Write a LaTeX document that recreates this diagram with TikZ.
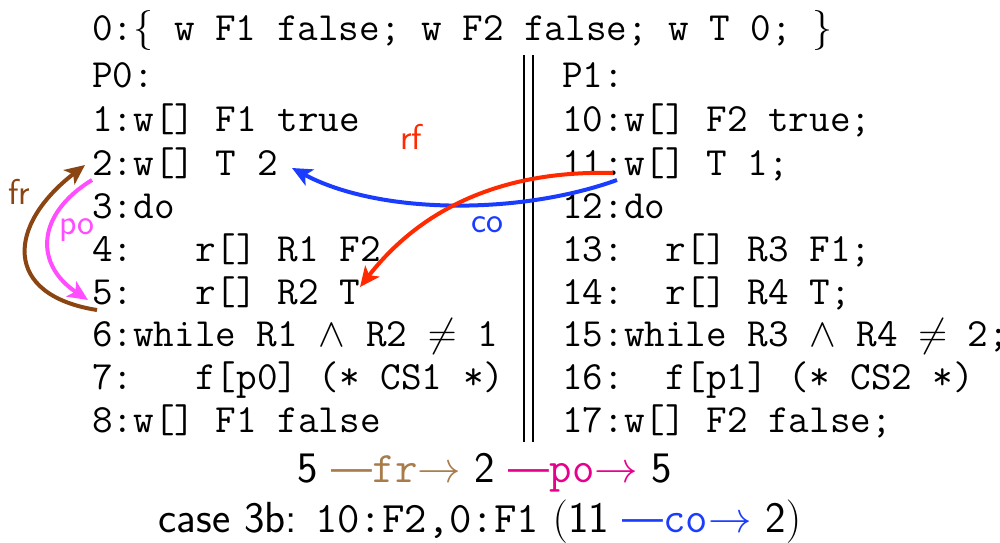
\RequirePackage{fix-cm}
\documentclass[tikz,border=0pt]{standalone}
\usepackage{fontspec}
\usetikzlibrary{arrows.meta}
\definecolor{frc}{HTML}{8B4513}
\definecolor{frt}{HTML}{A87B4A}
\definecolor{poc}{HTML}{FF4DFF}
\definecolor{pot}{HTML}{E6008C}
\definecolor{rfc}{HTML}{FF2A00}
\definecolor{coc}{HTML}{1A3CFF}
\tikzset{
  code/.style={anchor=base west, inner sep=0pt, font=\fontsize{40}{40}\selectfont\ttfamily},
  lbl/.style={inner sep=0pt, font=\fontsize{36}{36}\selectfont\sffamily},
  summary/.style={anchor=base, inner sep=0pt, font=\fontsize{43.5}{43.5}\selectfont\sffamily},
  rel/.style={line width=4pt, -{Stealth[length=20pt,width=18pt,inset=5pt]}},
  sep/.style={line width=2.2pt}
}
\begin{document}
\begin{tikzpicture}[x=1pt,y=-1pt]
\useasboundingbox (0,0) rectangle (1000,542);
% init line
\node[code] (l0) at (92,40) {0:$\{$ w F1 false; w F2 false; w T 0; $\}$};
% P0
\node[code] (p0) at (92,87) {P0:};
\node[code] (l1) at (92,131) {1:w[] F1 true};
\node[code] (l2) at (92,175) {2:w[] T 2};
\node[code] (l3) at (92,218) {3:do};
\node[code] (l4) at (92,261) {4:~~~r[] R1 F2};
\node[code] (l5) at (92,304) {5:~~~r[] R2 T};
\node[code] (l6) at (92,346) {6:while R1 $\wedge$ R2 $\neq$ 1};
\node[code] (l7) at (92,389) {7:~~~f[p0] (* CS1 *)};
\node[code] (l8) at (92,432) {8:w[] F1 false};
% P1
\node[code] (p1) at (562,87) {P1:};
\node[code] (l10) at (562,131) {10:w[] F2 true;};
\node[code] (l11) at (562,175) {11:w[] T 1;};
\node[code] (l12) at (562,218) {12:do};
\node[code] (l13) at (562,261) {13:~~r[] R3 F1;};
\node[code] (l14) at (562,304) {14:~~r[] R4 T;};
\node[code] (l15) at (562,346) {15:while R3 $\wedge$ R4 $\neq$ 2;};
\node[code] (l16) at (562,389) {16:~~f[p1] (* CS2 *)};
\node[code] (l17) at (562,432) {17:w[] F2 false;};
% separator
\draw[sep] (524,55) -- (524,442);
\draw[sep] (533,55) -- (533,442);
% arrow end points
\coordinate (coS) at (617,180);
\coordinate (coE) at (292,168);
\coordinate (rfS) at (613,173);
\coordinate (rfE) at (360,287);
\coordinate (frS) at (97,310);
\coordinate (frE) at (85,165);
\coordinate (poS) at (92,180);
\coordinate (poE) at (88,300);
% relations
\draw[rel, coc] (coS) .. controls (520,215) and (380,215) .. (coE);
\draw[rel, rfc] (rfS) .. controls (500,170) and (420,210) .. (rfE);
\draw[rel, frc] (frS) .. controls (2,295) and (7,225) .. (frE);
\draw[rel, poc] (poS) .. controls (35,215) and (35,265) .. (poE);
% labels
\node[lbl, rfc] (rf) at (411,137) {rf};
\node[lbl, coc] (co) at (487,225) {co};
\node[lbl, frc] (fr) at (19,192) {fr};
\node[lbl, poc] (po) at (77,230) {po};
% summary
\node[summary] (b1) at (485,482) {5 \textcolor{frt}{---\texttt{fr}$\rightarrow$} 2 \textcolor{pot}{---\texttt{po}$\rightarrow$} 5};
\node[summary] (b2) at (480,532) {case 3b: \texttt{10:F2,0:F1} $($11 \textcolor{coc}{---\texttt{co}$\rightarrow$} 2$)$};
\end{tikzpicture}
\end{document}
